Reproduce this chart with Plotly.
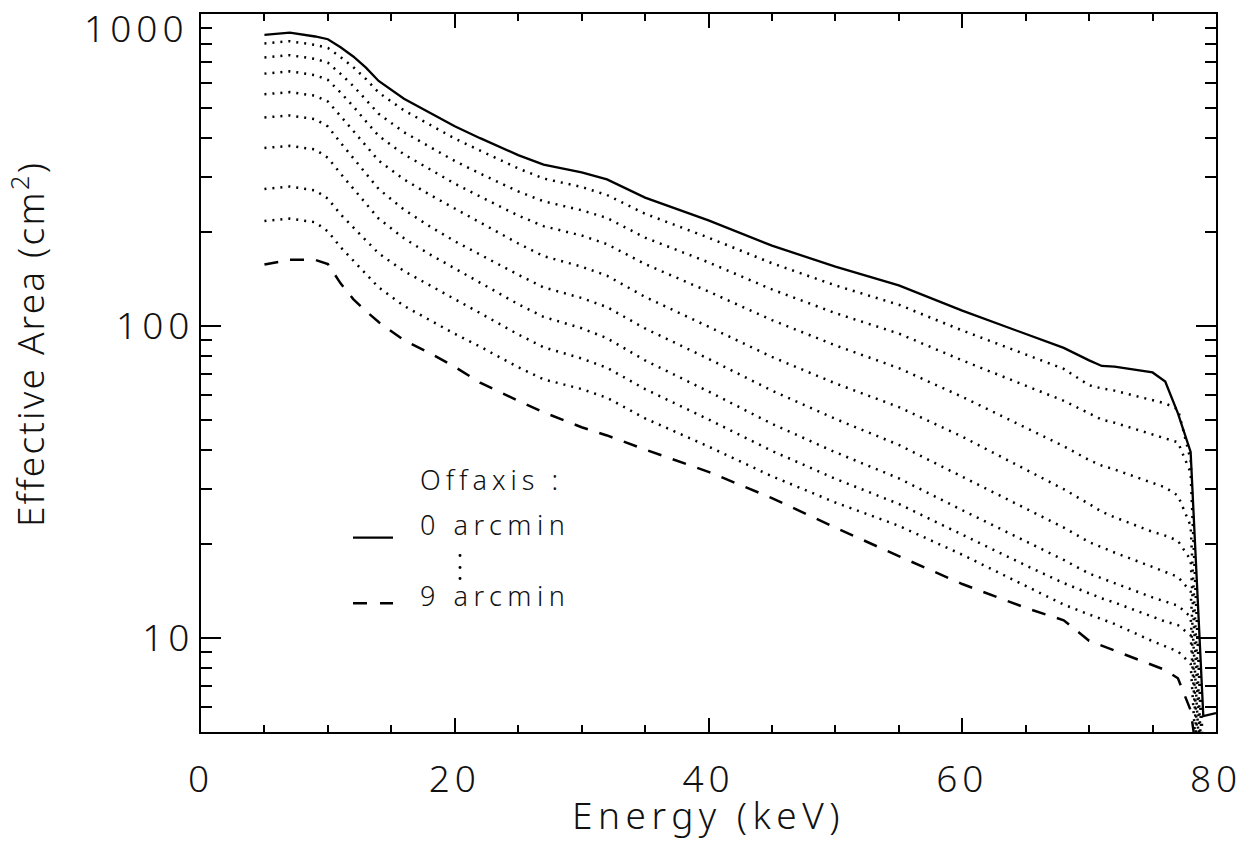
import math
import plotly.graph_objects as go

# Energy grid (keV)
energy = [5, 7, 9, 10, 11, 12, 13, 14, 16, 18, 20, 22, 25, 27, 30, 32, 35,
          40, 45, 50, 55, 60, 65, 68, 70, 71, 72, 75, 76, 77, 78, 79, 80]

# Effective area (cm^2) for off-axis angles 0 ... 9 arcmin
area_0 = [857, 871, 847, 830, 782, 731, 673, 610, 535, 482, 437, 400, 353, 329, 311, 295, 258,
          218, 181, 155, 135, 112, 94.4, 85.1, 77.6, 74.5, 74.1, 71.0, 66.4, 52.5, 39.5, 5.62, 5.75]
area_1 = [805, 818, 796, 778, 728, 676, 619, 560, 491, 442, 399, 365, 320, 297, 279, 263, 229,
          192, 159, 135, 117, 96.8, 80.9, 72.9, 64.6, 63.1, 62.1, 57.8, 56.5, 54.1, 37.2, 4.2, 3.2]
area_2 = [726, 738, 718, 698, 643, 588, 531, 479, 418, 375, 338, 308, 270, 251, 235, 222, 192,
          160, 131, 110, 94.6, 77.6, 64.3, 57.6, 52.5, 50.1, 49.0, 44.8, 43.7, 42.4, 33.9, 3.5, 2.8]
area_3 = [644, 655, 637, 615, 560, 506, 453, 407, 355, 318, 286, 260, 226, 209, 195, 183, 158,
          129, 104.5, 86.7, 73.3, 59.3, 47.2, 41.2, 37.2, 35.7, 34.7, 31.5, 30.4, 28.6, 22.9, 3.2, 2.5]
area_4 = [553, 562, 547, 524, 471, 421, 377, 339, 295, 264, 238, 215, 184, 167.5, 155, 145, 124,
          99.5, 79.6, 65.5, 55.0, 44.2, 34.7, 30.0, 26.9, 25.4, 24.4, 21.9, 21.3, 20.5, 17.8, 2.8, 2.2]
area_5 = [466, 473, 460, 436, 387, 346, 309, 275, 236, 209, 187, 169, 146, 133, 123, 115, 98.2,
          78.5, 62.1, 50.4, 41.6, 32.9, 26.0, 22.6, 20.3, 19.5, 18.8, 16.9, 16.3, 15.7, 14.1, 2.5, 2.0]
area_6 = [372, 378, 368, 346, 308, 275, 247, 221, 191, 170, 153, 138, 117.5, 107, 98.4, 91.4, 77.6,
          61.7, 48.6, 39.4, 32.5, 25.7, 20.4, 17.8, 16.1, 15.5, 15.0, 13.5, 13.1, 12.7, 11.7, 2.2, 1.8]
area_7 = [275, 280, 272, 256, 228, 207, 189, 171, 150, 135, 122, 110, 94.0, 85.5, 78.7, 73.5, 62.8,
          50.2, 39.8, 32.4, 26.9, 21.4, 17.1, 15.0, 13.9, 13.4, 13.0, 11.7, 11.3, 11.0, 10.2, 2.0, 1.6]
area_8 = [217, 221, 215, 201, 179, 162, 147, 133, 116, 104.5, 94.4, 85.9, 73.8, 67.5, 62.8, 58.9, 50.6,
          41.1, 33.0, 27.2, 22.9, 18.5, 14.7, 12.8, 11.9, 11.5, 11.1, 9.77, 9.42, 9.06, 8.28, 1.8, 1.5]
area_9 = [157.5, 163, 163, 158, 137, 122, 111.6, 103, 90, 82, 74, 65.8, 57.6, 52.9, 47.4, 44.6, 40.2,
          34.1, 28.1, 22.6, 18.3, 14.9, 12.5, 11.4, 9.8, 9.45, 9.1, 8.2, 7.9, 7.43, 5.87, 3.0, 2.5]

x_ticks = [0, 20, 40, 60, 80]
x_minor = [5, 10, 15, 25, 30, 35, 45, 50, 55, 65, 70, 75]
y_ticks = [10, 100]
y_minor = [5, 6, 7, 8, 9, 20, 30, 40, 50, 60, 70, 80, 90, 200, 300, 400, 500, 600, 700, 800, 900]

FONT = "Noto Sans"
TXT = "#111111"
WEIGHT = 300

W, H = 1253, 855
L_PX, R_PX, T_PX, B_PX = 201, 1216, 12, 732   # plot frame in window pixels

fig = go.Figure()
curves = [area_0, area_1, area_2, area_3, area_4, area_5, area_6, area_7, area_8, area_9]
for i, vals in enumerate(curves):
    if i == 0:
        line = dict(color="black", width=2.3)
    elif i == 9:
        line = dict(color="black", width=2.5, dash="14px,12px")
    else:
        line = dict(color="black", width=2.5, dash="2px,6px")
    fig.add_trace(go.Scatter(x=energy, y=vals, mode="lines", line=line,
                             showlegend=False, hoverinfo="skip"))

tickfont = dict(family=FONT, size=37, color=TXT, weight=WEIGHT)
axis_common = dict(showline=True, linewidth=2.4, linecolor="black", mirror="allticks",
                   showgrid=False, zeroline=False, ticks="inside", tickwidth=2,
                   tickcolor="black", tickfont=tickfont)

fig.update_xaxes(range=[0, 80], tickmode="array", tickvals=x_ticks, ticklen=14,
                 ticklabelstandoff=13,
                 minor=dict(tickmode="array", tickvals=x_minor, ticks="inside", ticklen=7,
                            tickwidth=2, tickcolor="black", showgrid=False),
                 **axis_common)
fig.update_yaxes(type="log", range=[math.log10(5), 3], tickmode="array", tickvals=y_ticks,
                 ticklen=20, ticklabelstandoff=0,
                 minor=dict(tickmode="array", tickvals=y_minor, ticks="inside", ticklen=11,
                            tickwidth=2, tickcolor="black", showgrid=False),
                 **axis_common)

def px_x(p):
    return (p - L_PX) / float(R_PX - L_PX)

def px_y(p):
    return (B_PX - p) / float(B_PX - T_PX)

big = dict(family=FONT, size=37, color=TXT, weight=WEIGHT)
leg = dict(family=FONT, size=27, color=TXT, weight=WEIGHT)
annotations = [
    dict(text="1000", x=px_x(191), y=px_y(26), xanchor="right", align="right",
         yanchor="middle", font=big),
    dict(text="Energy (keV)", x=0.5, y=px_y(815), xanchor="center", yanchor="middle", font=big),
    dict(text="Effective Area (cm<sup>2</sup>)", x=px_x(28), y=px_y(343), xanchor="center",
         yanchor="middle", textangle=-90, font=big),
    dict(text="Offaxis :", x=px_x(418), y=px_y(479), xanchor="left", align="left",
         yanchor="middle", font=leg),
    dict(text="0 arcmin", x=px_x(418), y=px_y(524), xanchor="left", align="left",
         yanchor="middle", font=leg),
    dict(text="9 arcmin", x=px_x(418), y=px_y(595), xanchor="left", align="left",
         yanchor="middle", font=leg),
]
for a in annotations:
    a.update(xref="paper", yref="paper", showarrow=False)

shapes = [
    dict(type="line", xref="paper", yref="paper", x0=px_x(353), x1=px_x(393),
         y0=px_y(537), y1=px_y(537), line=dict(color="black", width=2.3)),
    dict(type="line", xref="paper", yref="paper", x0=px_x(353), x1=px_x(393),
         y0=px_y(603), y1=px_y(603), line=dict(color="black", width=2.5, dash="14px,13px")),
]
# vertical ellipsis between the two legend entries
for cy in (555, 567, 578):
    shapes.append(dict(type="circle", xref="paper", yref="paper",
                       x0=px_x(458.5), x1=px_x(461.5), y0=px_y(cy + 1.5), y1=px_y(cy - 1.5),
                       fillcolor="black", line=dict(width=0)))

fig.update_layout(width=W, height=H,
                  margin=dict(l=L_PX, r=W - R_PX, t=T_PX, b=H - B_PX),
                  paper_bgcolor="white", plot_bgcolor="white",
                  annotations=annotations, shapes=shapes,
                  font=dict(family=FONT, color=TXT))

# page body margin off; wider letter spacing like the reference lettering
post = """
document.body.style.margin = '0';
function sp(sel, v) {
  document.querySelectorAll(sel).forEach(function (t) {
    t.setAttribute('letter-spacing', v); t.style.letterSpacing = v;
  });
}
sp('.xtick text', '5px');
sp('.ytick text', '5px');
document.querySelectorAll('.ytick text').forEach(function (t) {
  t.setAttribute('x', String(parseFloat(t.getAttribute('x') || '0') + 3));
});
sp('.annotation[data-index="0"] text', '5px');
sp('.annotation[data-index="1"] text', '5.5px');
sp('.annotation[data-index="2"] text', '2.2px');
sp('.annotation[data-index="3"] text', '5px');
sp('.annotation[data-index="4"] text', '5.5px');
sp('.annotation[data-index="5"] text', '5.5px');
"""

fig.write_html("out.html", post_script=post, config={"displayModeBar": False})
